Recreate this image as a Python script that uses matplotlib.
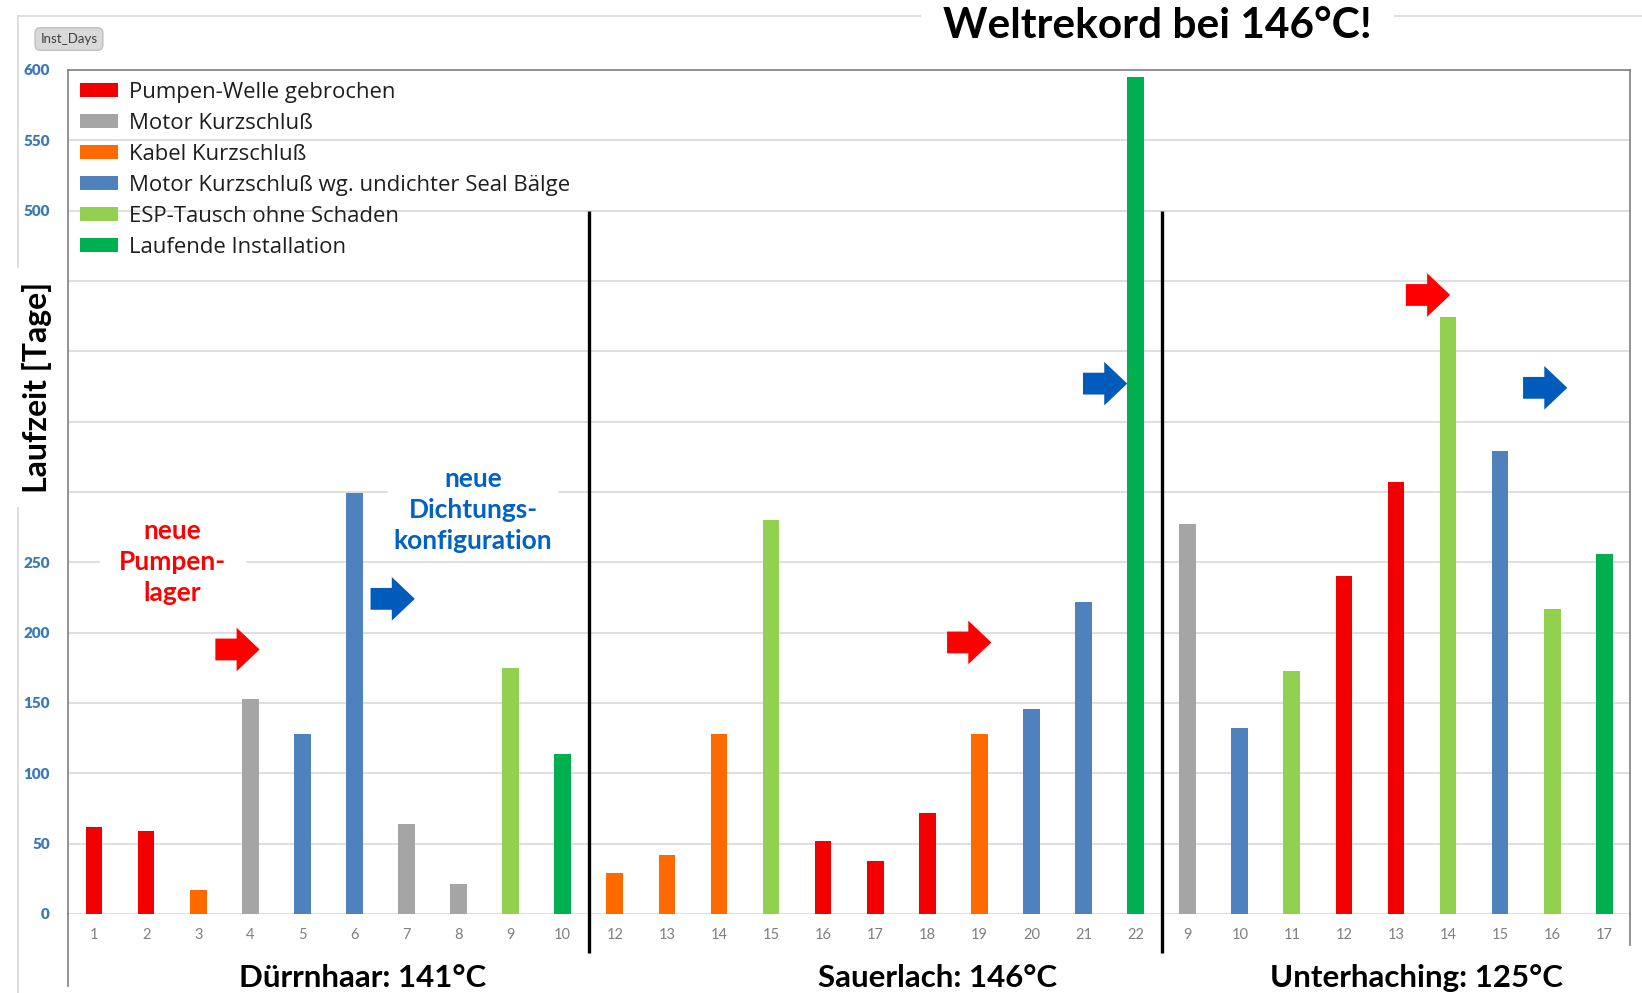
import matplotlib.pyplot as plt
import matplotlib.transforms as mtransforms
from matplotlib.patches import Patch, Polygon
from matplotlib.lines import Line2D

plt.rcParams['font.family'] = ['Lato', 'DejaVu Sans']

# ESP-Laufzeiten je Installation, drei Standorte hintereinander
tick_labels = ['1', '2', '3', '4', '5', '6', '7', '8', '9', '10',
               '12', '13', '14', '15', '16', '17', '18', '19', '20', '21', '22',
               '9', '10', '11', '12', '13', '14', '15', '16', '17']
days = [62, 59, 17, 153, 128, 299, 64, 21, 175, 114,
        29, 42, 128, 280, 52, 38, 72, 128, 146, 222, 595,
        277, 132, 173, 240, 307, 424, 329, 217, 256]
causes = ['welle', 'welle', 'kabel', 'motor', 'seal', 'seal', 'motor', 'motor', 'tausch', 'laufend',
          'kabel', 'kabel', 'kabel', 'tausch', 'welle', 'welle', 'welle', 'kabel', 'seal', 'seal', 'laufend',
          'motor', 'seal', 'tausch', 'welle', 'welle', 'tausch', 'seal', 'tausch', 'laufend']

cause_keys = ['welle', 'motor', 'kabel', 'seal', 'tausch', 'laufend']
cause_names = ['Pumpen-Welle gebrochen', 'Motor Kurzschluß', 'Kabel Kurzschluß',
               'Motor Kurzschluß wg. undichter Seal Bälge', 'ESP-Tausch ohne Schaden',
               'Laufende Installation']
cause_colors = ['#F20000', '#A5A5A5', '#FF6A00', '#4F81BD', '#92D050', '#00B050']

sites = ['Dürrnhaar: 141°C', 'Sauerlach: 146°C', 'Unterhaching: 125°C']
site_x = [5.15, 16.2, 25.4]
site_breaks = [9.5, 20.5]

y_ticks = [0, 50, 100, 150, 200, 250, 300, 350, 400, 450, 500, 550, 600]
y_labels = ['0', '50', '100', '150', '200', '250', '', '', '', '', '500', '550', '600']

# Pfeile: linke Kante, Mitte (Tage), Farbe
arrows = [(2.33, 188, '#FF0000'), (5.31, 224, '#005BBB'),
          (16.38, 193, '#FF0000'), (18.99, 377, '#005BBB'),
          (25.19, 440, '#FF0000'), (27.44, 374, '#005BBB')]

color_of = dict(zip(cause_keys, cause_colors))
x = list(range(len(days)))

fig = plt.figure(figsize=(16.42, 9.93), dpi=100)
ax = fig.add_axes([0.0414, 0.0796, 0.9515, 0.85])

ax.bar(x, days, width=0.32, color=[color_of[c] for c in causes], zorder=3)

ax.set_xlim(-0.5, 29.5)
ax.set_ylim(0, 600)
ax.set_yticks(y_ticks)
ax.set_yticklabels(y_labels, color='#3A78BC', fontsize=11, fontweight='heavy')
ax.set_xticks(x)
ax.set_xticklabels(tick_labels, color='#7F7F7F', fontsize=10.5)
ax.tick_params(axis='both', length=0)
ax.tick_params(axis='x', pad=10)
ax.tick_params(axis='y', pad=13)
ax.grid(axis='y', color='#D9D9D9', lw=1.2, zorder=0)

for side in ['top', 'left', 'right']:
    ax.spines[side].set_color('#808080')
    ax.spines[side].set_linewidth(1.2)
ax.spines['bottom'].set_visible(False)

# Achsenlinien laufen unter die Beschriftung weiter
ax.add_line(Line2D([0, 0], [0, -0.085], transform=ax.transAxes, color='#808080', lw=1.2, clip_on=False))
ax.add_line(Line2D([1, 1], [0, -0.037], transform=ax.transAxes, color='#808080', lw=1.2, clip_on=False))

# Trennlinien zwischen den Standorten
ax.vlines(site_breaks, -28, 500, color='black', lw=2.4, clip_on=False, zorder=4)

trans = mtransforms.blended_transform_factory(ax.transData, ax.transAxes)
for name, sx in zip(sites, site_x):
    ax.text(sx, -0.076, name, transform=trans, ha='center', va='center',
            fontsize=22.5, fontweight='bold', color='black')

# Blockpfeile
aw, ah = 0.85, 31
for x0, yc, col in arrows:
    pts = [(x0, yc - ah * 0.25), (x0 + aw * 0.48, yc - ah * 0.25), (x0 + aw * 0.48, yc - ah / 2),
           (x0 + aw, yc), (x0 + aw * 0.48, yc + ah / 2), (x0 + aw * 0.48, yc + ah * 0.25),
           (x0, yc + ah * 0.25)]
    ax.add_patch(Polygon(pts, closed=True, color=col, lw=0, zorder=5))

ax.text(1.51, 250, 'neue\nPumpen-\nlager', ha='center', va='center', color='#FF0000',
        fontsize=19, fontweight='bold', zorder=5, linespacing=1.36,
        bbox=dict(facecolor='white', edgecolor='none', pad=14))
ax.text(7.28, 287, 'neue\nDichtungs-\nkonfiguration', ha='center', va='center', color='#0062C4',
        fontsize=19, fontweight='bold', zorder=5, linespacing=1.36,
        bbox=dict(facecolor='white', edgecolor='none', pad=4))

handles = [Patch(facecolor=c, edgecolor='none') for c in cause_colors]
leg = ax.legend(handles, cause_names, loc='upper left', frameon=False,
                prop={'family': ['Open Sans', 'DejaVu Sans'], 'size': 15.9},
                handlelength=1.7, handleheight=0.62, handletextpad=0.5,
                labelspacing=0.45, borderaxespad=0.35, borderpad=0.2)
for t in leg.get_texts():
    t.set_color('#1E1E1E')

# Rahmen des Diagrammbereichs
fig.add_artist(Line2D([0.011, 0.011], [0.0, 0.984], transform=fig.transFigure, color='#D9D9D9', lw=1.2))
fig.add_artist(Line2D([0.011, 1.0], [0.984, 0.984], transform=fig.transFigure, color='#D9D9D9', lw=1.2))

fig.text(0.0225, 0.61, 'Laufzeit [Tage]', rotation=90, ha='center', va='center',
         fontsize=23, fontweight='bold', color='black',
         bbox=dict(facecolor='white', edgecolor='none', pad=10))

fig.text(0.042, 0.9607, 'Inst_Days', ha='center', va='center', fontsize=9.5, color='#404040',
         bbox=dict(boxstyle='round,pad=0.4', facecolor='#D9D9D9', edgecolor='#BFBFBF'))

fig.text(0.7047, 0.974, 'Weltrekord bei 146°C!', ha='center', va='center',
         fontsize=30.5, fontweight='bold', color='black',
         bbox=dict(facecolor='white', edgecolor='none', pad=16))

fig.savefig('out.png', dpi=100, facecolor='white')
